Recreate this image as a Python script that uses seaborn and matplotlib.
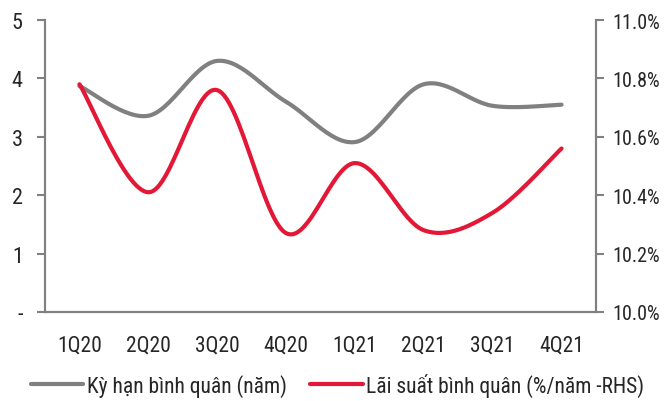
import numpy as np
import pandas as pd
import matplotlib
matplotlib.use("Agg")
import matplotlib.pyplot as plt
import seaborn as sns

# Data
quarters = ["1Q20", "2Q20", "3Q20", "4Q20", "1Q21", "2Q21", "3Q21", "4Q21"]
avg_term = [3.87, 3.36, 4.30, 3.60, 2.91, 3.90, 3.53, 3.55]          # years (LHS)
avg_rate = [10.78, 10.41, 10.76, 10.27, 10.51, 10.28, 10.34, 10.56]  # % (RHS)

GRAY = "#808080"
RED = "#E31837"


def smooth_curve(x, y, steps=30):
    """Catmull-Rom style Bezier smoothing (like Excel's smoothed lines)."""
    x = np.asarray(x, float)
    y = np.asarray(y, float)
    px = np.concatenate([[x[0]], x, [x[-1]]])
    py = np.concatenate([[y[0]], y, [y[-1]]])
    xs, ys = [], []
    t = np.linspace(0, 1, steps)
    for i in range(1, len(px) - 2):
        p0 = np.array([px[i], py[i]])
        p3 = np.array([px[i + 1], py[i + 1]])
        c1 = p0 + (np.array([px[i + 1], py[i + 1]]) - np.array([px[i - 1], py[i - 1]])) / 6
        c2 = p3 - (np.array([px[i + 2], py[i + 2]]) - np.array([px[i], py[i]])) / 6
        b = ((1 - t) ** 3)[:, None] * p0 + (3 * (1 - t) ** 2 * t)[:, None] * c1 \
            + (3 * (1 - t) * t ** 2)[:, None] * c2 + (t ** 3)[:, None] * p3
        xs.extend(b[:, 0])
        ys.extend(b[:, 1])
    return np.array(xs), np.array(ys)


sns.set_style("white")
plt.rcParams["font.family"] = ["Liberation Sans Narrow", "Roboto Condensed",
                               "IBM Plex Sans Condensed", "DejaVu Sans"]
plt.rcParams["font.size"] = 13

fig = plt.figure(figsize=(6.71, 4.02), dpi=100)
ax = fig.add_axes([45 / 671, 1 - 313 / 402, (596 - 45) / 671, (313 - 21) / 402])
ax2 = ax.twinx()

pos = np.arange(len(quarters))
gx, gy = smooth_curve(pos, avg_term)
rx, ry = smooth_curve(pos, avg_rate)

sns.lineplot(x=gx, y=gy, ax=ax, color=GRAY, linewidth=3, sort=False,
             label="Kỳ hạn bình quân (năm)", legend=False)
sns.lineplot(x=rx, y=ry, ax=ax2, color=RED, linewidth=3, sort=False,
             label="Lãi suất bình quân (%/năm -RHS)", legend=False)

ax.set_xlim(-0.5, len(quarters) - 0.5)
ax.set_ylim(0, 5)
ax2.set_ylim(10.0, 11.0)

ax.set_yticks(range(6))
ax.set_yticklabels(["-", "1", "2", "3", "4", "5"])
ax2.set_yticks(np.arange(10.0, 11.01, 0.2))
ax2.set_yticklabels([f"{v:.1f}%" for v in np.arange(10.0, 11.01, 0.2)])

ax.set_xticks(np.arange(-0.5, len(quarters), 1.0))
ax.set_xticklabels([])
ax.set_xticks(pos, minor=True)
ax.set_xticklabels(quarters, minor=True)
ax.tick_params(axis="x", which="minor", length=0, pad=16, labelsize=15.5)
ax.tick_params(axis="x", which="major", length=6, width=1.5, color=GRAY, direction="out")
ax.tick_params(axis="y", length=6, width=1.5, color=GRAY, direction="out", labelsize=16, pad=10)
ax2.tick_params(axis="y", length=6, width=1.5, color=GRAY, direction="out", labelsize=14.5, pad=6)

for a in (ax, ax2):
    a.spines["top"].set_visible(False)
    for s in ["left", "right", "bottom"]:
        a.spines[s].set_color(GRAY)
        a.spines[s].set_linewidth(1.5)
ax.set_xlabel("")
ax.set_ylabel("")
ax2.set_ylabel("")

h1, l1 = ax.get_legend_handles_labels()
h2, l2 = ax2.get_legend_handles_labels()
fig.legend(h1 + h2, l1 + l2, loc="center", bbox_to_anchor=(0.503, 1 - 386 / 402),
           ncol=2, frameon=False, fontsize=15.5, handlelength=2.45, handletextpad=0.15,
           columnspacing=1.1)

fig.savefig("out.png", dpi=100)
